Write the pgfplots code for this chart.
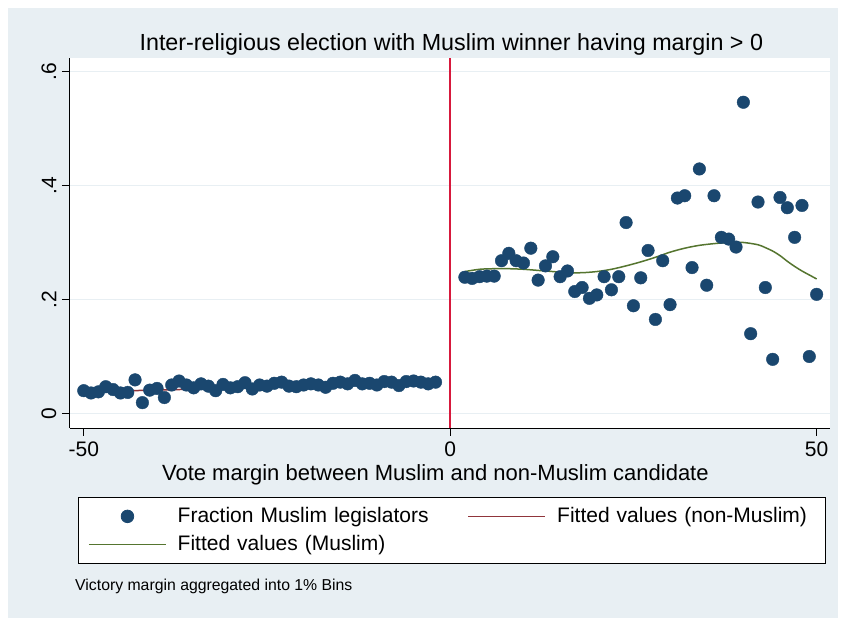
\documentclass[border=0pt]{standalone}
\usepackage{fontspec}
\setmainfont{Liberation Sans}
\usepackage{pgfplots}
\pgfplotsset{compat=1.18}
\definecolor{bgblue}{RGB}{232,239,243}
\definecolor{gridc}{RGB}{232,239,243}
\definecolor{stnavy}{RGB}{26,71,111}
\definecolor{stmaroon}{RGB}{144,53,59}
\definecolor{stgreen}{RGB}{85,117,47}
\definecolor{vred}{RGB}{215,25,60}
\pgfplotsset{
  lineleg/.style={legend image code/.code={\draw[##1, line width=1.5pt] (0pt,0pt) -- (77pt,0pt);}},
  markleg/.style={legend image code/.code={\path (0pt,0pt) (77pt,0pt); \draw[##1] plot coordinates {(38.5pt,0pt)};}},
}
\begin{document}
\begin{tikzpicture}
\useasboundingbox (0pt,0pt) rectangle (844pt,618pt);
\fill[white] (0pt,0pt) rectangle (844pt,618pt);
\fill[bgblue] (8pt,0pt) rectangle (838pt,610pt);
\begin{axis}[
  at={(450.2pt,204.5pt)}, anchor=origin,
  scale only axis, width=760pt, height=370pt,
  xmin=-51.9, xmax=51.8, ymin=-0.0254, ymax=0.6237,
  axis background/.style={fill=white},
  axis lines*=left,
  axis line style={black, line width=0.8pt},
  tick align=outside, major tick length=8pt,
  tick style={black, line width=0.8pt},
  xtick={-50,0,50}, xticklabels={-50,0,50},
  ytick={0,0.2,0.4,0.6}, yticklabels={0,.2,.4,.6},
  ymajorgrids, grid style={gridc, line width=1.5pt},
  ticklabel style={font=\fontsize{21}{25}\selectfont},
  xticklabel style={anchor=base, yshift=-21pt},
  yticklabel style={rotate=90, anchor=south},
  yticklabel shift=2pt,
  title={Inter-religious election with Muslim winner having margin > 0},
  title style={font=\fontsize{23.3}{27}\selectfont, at={(axis description cs:0.502,1)}, anchor=base, yshift=1pt},
  xlabel={Vote margin between Muslim and non-Muslim candidate},
  xlabel style={font=\fontsize{22}{26}\selectfont, at={(axis description cs:0.481,0)}, anchor=base, yshift=-53pt},
  legend columns=2,
  legend style={at={(axis description cs:0.0105,-0.1865)}, anchor=north west,
    draw=black, line width=0.8pt, inner xsep=10pt, inner ysep=5pt,
    font=\fontsize{21}{25}\selectfont,
    nodes={inner xsep=0pt, inner ysep=4pt, text height=16pt, text depth=4pt, align=left},
    /tikz/every odd column/.style={column sep=11pt},
    /tikz/column 2/.style={nodes={text width=290pt}},
    /tikz/column 4/.style={nodes={text width=258pt}}},
]
\addplot[vred, line width=1.5pt, forget plot] coordinates {(0,-0.0254) (0,0.6237)};
\addplot[only marks, mark=*, mark size=6.3pt, color=stnavy, mark options={fill=stnavy, draw=stnavy}, markleg]
coordinates {
(-50,0.040) (-49,0.036) (-48,0.038) (-47,0.047) (-46,0.042) (-45,0.036) (-44,0.037) (-43,0.059)
(-42,0.019) (-41,0.041) (-40,0.044) (-39,0.028) (-38,0.050) (-37,0.057) (-36,0.050) (-35,0.045)
(-34,0.052) (-33,0.048) (-32,0.040) (-31,0.051) (-30,0.045) (-29,0.047) (-28,0.054) (-27,0.043)
(-26,0.050) (-25,0.048) (-24,0.053) (-23,0.055) (-22,0.048) (-21,0.047) (-20,0.050) (-19,0.052)
(-18,0.050) (-17,0.046) (-16,0.053) (-15,0.055) (-14,0.052) (-13,0.058) (-12,0.052) (-11,0.053)
(-10,0.050) (-9,0.056) (-8,0.055) (-7,0.049) (-6,0.056) (-5,0.057) (-4,0.055) (-3,0.052) (-2,0.055)
(2,0.239) (3,0.237) (4,0.240) (5,0.241) (6,0.241) (7,0.268) (8,0.281) (9,0.268) (10,0.264)
(11,0.290) (12,0.234) (13,0.259) (14,0.275) (15,0.240) (16,0.250) (17,0.214) (18,0.221)
(19,0.202) (20,0.208) (21,0.240) (22,0.217) (23,0.240) (24,0.335) (25,0.189) (26,0.238)
(27,0.286) (28,0.165) (29,0.268) (30,0.191) (31,0.378) (32,0.382) (33,0.256) (34,0.429)
(35,0.225) (36,0.382) (37,0.309) (38,0.306) (39,0.292) (40,0.546) (41,0.140) (42,0.371)
(43,0.221) (44,0.095) (45,0.379) (46,0.361) (47,0.309) (48,0.365) (49,0.100) (50,0.209)
};
\addlegendentry{Fraction Muslim legislators}
\addplot[stmaroon, line width=1.5pt, lineleg]
coordinates {(-50,0.038) (-2,0.053)};
\addlegendentry{Fitted values (non-Muslim)}
\addplot[stgreen, line width=1.5pt, smooth, lineleg]
coordinates {
(2,0.249) (4,0.253) (6,0.254) (8,0.254) (10,0.253) (12,0.251) (14,0.249) (16,0.247)
(18,0.247) (20,0.249) (22,0.253) (24,0.259) (26,0.266) (28,0.274) (30,0.283) (32,0.290)
(34,0.295) (36,0.298) (38,0.300) (40,0.300) (42,0.296) (43,0.291) (44,0.285) (45,0.277)
(46,0.267) (47,0.258) (48,0.250) (49,0.243) (50,0.236)
};
\addlegendentry{Fitted values (Muslim)}
\end{axis}
\node[anchor=base west, font=\fontsize{15.8}{19}\selectfont, inner sep=0pt] at (75pt,27pt) {Victory margin aggregated into 1\% Bins};
\end{tikzpicture}
\end{document}
